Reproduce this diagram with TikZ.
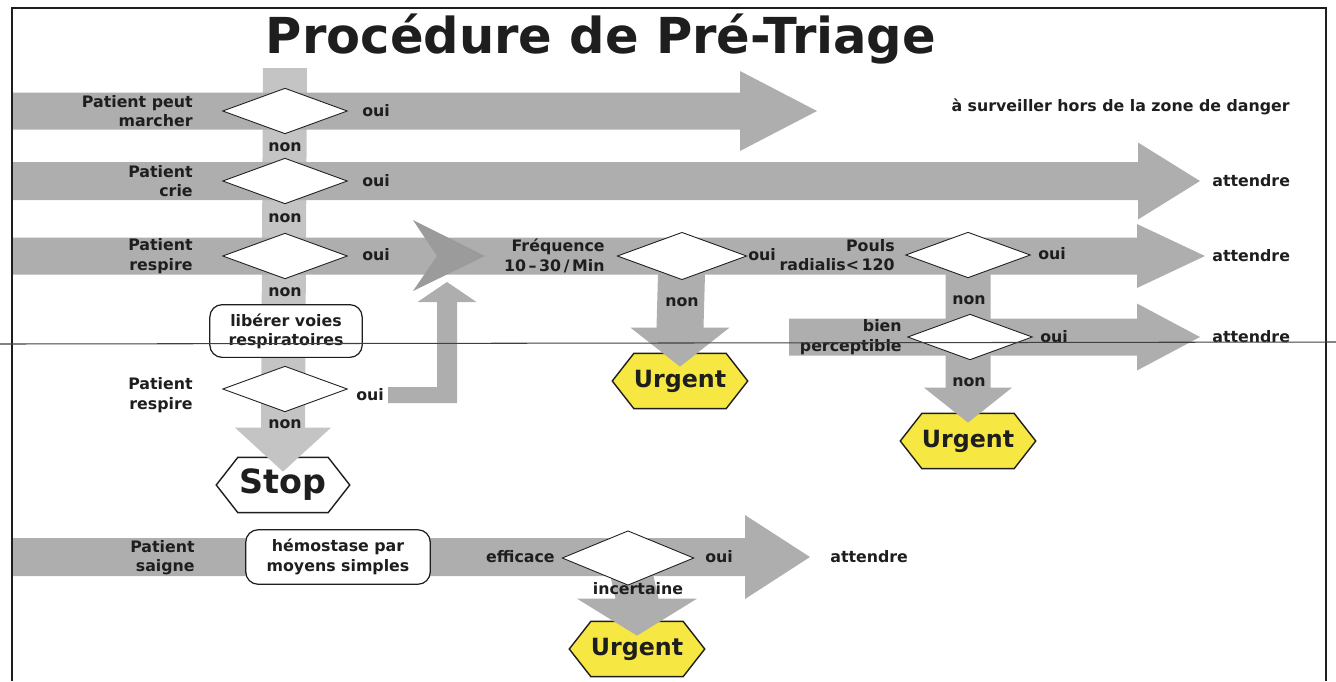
\documentclass[tikz,border=0pt]{standalone}
\usepackage{fontspec}
\setmainfont{DejaVu Sans}
\usetikzlibrary{shapes.geometric, shapes.symbols, calc, backgrounds}

\definecolor{bandgray}{RGB}{174,174,174}
\definecolor{colgray}{RGB}{196,196,196}
\definecolor{chevgray}{RGB}{155,155,155}
\definecolor{urgyellow}{RGB}{247,231,66}
\definecolor{inkgray}{RGB}{30,30,30}

\newcommand{\txt}{\fontsize{9}{11}\selectfont\bfseries}

\tikzstyle{question}=[diamond, draw=inkgray, fill=white, line width=0.5pt, minimum width=71pt, minimum height=26pt, inner sep=0]
\tikzstyle{action}=[rectangle, rounded corners=7pt, draw=inkgray, fill=white, line width=0.7pt, align=center, inner sep=0, font=\txt, text=inkgray]
\tikzstyle{endnode}=[signal, signal to=east and west, signal pointer angle=104, draw=inkgray, line width=0.8pt, minimum width=76pt, minimum height=31.5pt, inner sep=0, text=inkgray]
\tikzstyle{urgent}=[endnode, fill=urgyellow, font=\fontsize{13.5}{15}\selectfont\bfseries]
\tikzstyle{stopnode}=[endnode, fill=white, font=\fontsize{19}{21}\selectfont\bfseries]
\tikzstyle{lbl}=[font=\txt, text=inkgray, inner sep=0]
\tikzstyle{leftlbl}=[lbl, anchor=east, align=right]
\tikzstyle{crease}=[black!75, line width=0.6pt]

% horizontal band: fill, from, tip, half shaft, head length, half head
\newcommand{\hband}[6][bandgray]{
  \fill[#1] ($(#2)+(0,-#4)$) -- ($(#3)+(-#5,-#4)$) -- ($(#3)+(-#5,-#6)$) -- (#3)
    -- ($(#3)+(-#5,#6)$) -- ($(#3)+(-#5,#4)$) -- ($(#2)+(0,#4)$) -- cycle;
}
% vertical band going down
\newcommand{\vband}[6][colgray]{
  \fill[#1] ($(#2)+(-#4,0)$) -- ($(#3)+(-#4,-#5)$) -- ($(#3)+(-#6,-#5)$) -- (#3)
    -- ($(#3)+(#6,-#5)$) -- ($(#3)+(#4,-#5)$) -- ($(#2)+(#4,0)$) -- cycle;
}

\begin{document}
\begin{tikzpicture}[x=0.02cm, y=-0.02cm]
  \useasboundingbox (0,0) rectangle (1336,681);
  \draw[inkgray, line width=1pt] (12,681) -- (12,8) -- (1326,8) -- (1326,681);

  \node[lbl, anchor=base] (title) at (601,53) {\fontsize{28.2}{32}\selectfont Procédure de Pré-Triage};

  % questions
  \node[question] (Q1) at (285,111) {};
  \node[question] (Q2) at (285,181) {};
  \node[question] (Q3) at (285,256) {};
  \node[question, minimum width=73.7pt, minimum height=27pt] (Q4) at (682,256) {};
  \node[question] (Q5) at (968,255) {};
  \node[question] (Q6) at (970,337) {};
  \node[question] (Q7) at (285,389) {};
  \node[question, minimum width=75pt, minimum height=31pt] (Q8) at (628,558) {};

  \node[action, minimum width=86.7pt, minimum height=30pt] (B1) at (286,331) {libérer voies\\respiratoires};
  \node[action, minimum width=105pt, minimum height=31pt] (B2) at (338,557) {hémostase par\\moyens simples};

  % labels
  \node[leftlbl] (P1) at (193,111) {Patient peut\\marcher};
  \node[leftlbl] (P2) at (193,181) {Patient\\crie};
  \node[leftlbl] (P3) at (193,256) {Patient\\respire};
  \node[leftlbl] (P4) at (605,256) {Fréquence\\10\,–\,30\,/\,Min};
  \node[leftlbl] (P5) at (895,255) {Pouls\\radialis<\,120};
  \node[leftlbl] (P6) at (902,337) {bien\\perceptible};
  \node[leftlbl] (P7) at (193,395) {Patient\\respire};
  \node[leftlbl] (P8) at (195,558) {Patient\\saigne};
  \node[leftlbl] (P9) at (555,557) {efficace};

  \node[lbl, anchor=west] (o1) at (362,111) {oui};
  \node[lbl, anchor=west] (o2) at (362,181) {oui};
  \node[lbl, anchor=west] (o3) at (362,255) {oui};
  \node[lbl, anchor=west] (o4) at (748,255) {oui};
  \node[lbl, anchor=west] (o5) at (1038,254) {oui};
  \node[lbl, anchor=west] (o6) at (1040,337) {oui};
  \node[lbl, anchor=west] (o7) at (356,395) {oui};
  \node[lbl, anchor=west] (o8) at (705,557) {oui};

  \node[lbl] (n1) at (285,147) {non};
  \node[lbl] (n2) at (285,218) {non};
  \node[lbl] (n3) at (285,292) {non};
  \node[lbl] (n4) at (285,424) {non};
  \node[lbl] (n5) at (682,302) {non};
  \node[lbl] (n6) at (969,300) {non};
  \node[lbl] (n7) at (969,382) {non};
  \node[lbl] (n8) at (638,589) {incertaine};

  \node[lbl, anchor=east] (a0) at (1290,107) {à surveiller hors de la zone de danger};
  \node[lbl, anchor=west] (a1) at (1212,181) {attendre};
  \node[lbl, anchor=west] (a2) at (1212,256) {attendre};
  \node[lbl, anchor=west] (a3) at (1212,337) {attendre};
  \node[lbl, anchor=west] (a4) at (830,557) {attendre};

  \begin{scope}[on background layer]
    \node[stopnode] (stop) at (283,485) {Stop};
    \node[urgent] (U1) at (680,381) {Urgent};
    \node[urgent] (U2) at (968,441) {Urgent};
    \node[urgent] (U3) at (637,649) {Urgent};

    \coordinate (top) at (285,68);
    \coordinate (L1) at (12,111);   \coordinate (E1) at (817,111);
    \coordinate (L2) at (12,181);   \coordinate (E2) at (1200,181);
    \coordinate (L3) at (12,256);   \coordinate (E3) at (1205,256);
    \coordinate (L4) at (789,337);  \coordinate (E4) at (1200,337);
    \coordinate (L5) at (12,557);   \coordinate (E5) at (810,557);
    \coordinate (chev) at (485,256);
    \coordinate (Ls) at (388,395);  \coordinate (Le) at (447,282);

    \vband{top}{$(stop.north)+(0,15)$}{22}{44}{48}
    \hband{L1}{E1}{18.5}{77}{40}
    \hband{L2}{E2}{19}{62}{38.5}
    \hband{L3}{E3}{18.5}{68}{32}
    \hband{L4}{E4}{18.5}{63}{33.5}
    \hband{L5}{E5}{19}{65}{42}
    \vband[bandgray]{Q4}{$(U1.north)+(0,14)$}{23.5}{39}{49.5}
    \vband[bandgray]{Q5}{$(U2.north)+(0,10)$}{22.5}{35}{44}
    \vband[bandgray]{Q8}{$(U3.north)+(0,15)$}{21.5}{37}{60}
    \fill[chevgray] ($(chev)+(-72,-36)$) -- (chev) -- ($(chev)+(-72,35)$) -- ($(chev)+(-48,0)$) -- cycle;
    \fill[bandgray] ($(Ls)+(0,-8)$) -- ($(Le |- Ls)+(-10,-8)$) -- ($(Le)+(-10,20)$) -- ($(Le)+(-29.5,20)$)
      -- (Le) -- ($(Le)+(29.5,20)$) -- ($(Le)+(10,20)$) -- ($(Le |- Ls)+(10,8)$) -- ($(Ls)+(0,8)$) -- cycle;
  \end{scope}

  \draw[crease] (0,344) -- (1336,342);
\end{tikzpicture}
\end{document}
